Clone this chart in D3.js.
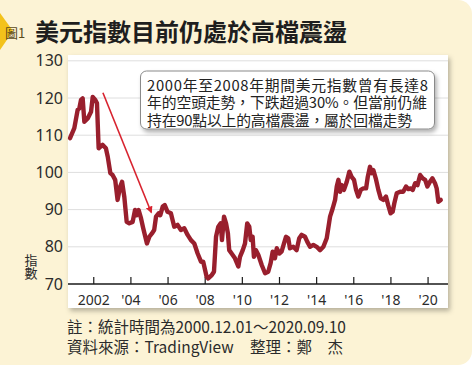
<!DOCTYPE html>
<html>
<head>
<meta charset="utf-8">
<script src="https://cdn.jsdelivr.net/npm/d3@7"></script>
<style>
  html, body { margin: 0; padding: 0; background: #ffffff; }
  svg { display: block; }
  text { font-family: "Noto Sans CJK TC", "Noto Sans", sans-serif; fill: #2b2b2b; }
</style>
</head>
<body>
<div id="chart"></div>
<script>
// US dollar index (fractional year, index value)
const years = [2000.75, 2000.98, 2001.16, 2001.25, 2001.34, 2001.43, 2001.52, 2001.70, 2001.88, 2001.97,
    2002.11, 2002.20, 2002.29, 2002.50, 2002.68, 2002.78, 2002.92, 2003.04, 2003.18, 2003.31,
    2003.45, 2003.55, 2003.67, 2003.80, 2003.94, 2004.12, 2004.25, 2004.35, 2004.44, 2004.57,
    2004.69, 2004.89, 2005.02, 2005.16, 2005.28, 2005.38, 2005.52, 2005.61, 2005.74, 2005.85,
    2006.00, 2006.18, 2006.36, 2006.54, 2006.72, 2006.90, 2007.08, 2007.26, 2007.44, 2007.62,
    2007.80, 2007.92, 2008.10, 2008.19, 2008.38, 2008.50, 2008.61, 2008.73, 2008.86, 2008.93,
    2009.04, 2009.15, 2009.25, 2009.32, 2009.45, 2009.63, 2009.81, 2009.90, 2010.05, 2010.17,
    2010.29, 2010.40, 2010.48, 2010.58, 2010.65, 2010.76, 2010.89, 2011.07, 2011.25, 2011.42,
    2011.55, 2011.66, 2011.78, 2011.88, 2012.02, 2012.14, 2012.27, 2012.38, 2012.50, 2012.59,
    2012.77, 2012.95, 2013.09, 2013.22, 2013.40, 2013.52, 2013.67, 2013.85, 2014.03, 2014.21,
    2014.39, 2014.57, 2014.75, 2014.89, 2015.02, 2015.11, 2015.20, 2015.29, 2015.38, 2015.50,
    2015.65, 2015.79, 2015.91, 2016.04, 2016.15, 2016.27, 2016.40, 2016.54, 2016.69, 2016.78,
    2016.90, 2016.99, 2017.08, 2017.21, 2017.35, 2017.48, 2017.62, 2017.76, 2017.88, 2018.01,
    2018.12, 2018.21, 2018.34, 2018.52, 2018.69, 2018.84, 2018.97, 2019.09, 2019.20, 2019.33,
    2019.46, 2019.60, 2019.74, 2019.87, 2019.99, 2020.13, 2020.26, 2020.40, 2020.49, 2020.58,
    2020.71];

const dxy = [109.2, 111.9, 116.8, 117.2, 119.5, 119.9, 113.6, 114.5, 116.3, 120.3,
    119.5, 118.6, 106.5, 107.4, 106.5, 104.2, 99.8, 99.3, 98.0, 92.6,
    96.2, 97.5, 93.5, 86.7, 86.3, 86.7, 89.9, 88.5, 89.9, 87.7,
    85.0, 80.9, 82.7, 83.6, 84.5, 88.1, 89.0, 88.5, 90.8, 91.2,
    89.4, 89.0, 85.4, 85.9, 84.5, 85.0, 83.2, 81.8, 80.9, 78.2,
    76.0, 76.0, 72.0, 71.5, 72.4, 73.3, 82.7, 85.4, 86.3, 81.8,
    88.1, 86.3, 83.6, 79.1, 78.2, 76.9, 74.7, 77.3, 79.1, 80.9,
    86.3, 85.4, 81.8, 82.7, 77.3, 79.1, 77.8, 75.1, 72.9, 73.3,
    75.6, 78.7, 76.9, 79.6, 78.2, 78.7, 80.9, 82.7, 82.3, 79.6,
    80.0, 79.1, 82.3, 83.2, 82.7, 81.4, 80.0, 80.5, 80.0, 79.1,
    80.0, 82.3, 88.1, 90.3, 92.6, 96.2, 98.0, 94.8, 96.6, 95.3,
    97.5, 100.2, 98.8, 98.0, 95.3, 93.5, 95.3, 95.7, 95.7, 98.8,
    101.5, 99.8, 100.6, 98.4, 95.3, 93.0, 92.6, 93.5, 91.2, 89.0,
    89.4, 91.7, 94.4, 94.8, 94.8, 96.2, 95.5, 95.7, 95.3, 97.1,
    96.6, 99.3, 98.4, 98.0, 96.2, 97.5, 98.4, 97.1, 95.7, 92.1,
    92.6];

const tickYears = [2002, 2004, 2006, 2008, 2010, 2012, 2014, 2016, 2018, 2020];
const tickLabels = ["2002", "'04", "'06", "'08", "'10", "'12", "'14", "'16", "'18", "'20"];
const yTicks = [70, 80, 90, 100, 110, 120, 130];

const title = "美元指數目前仍處於高檔震盪";
const noteLines = ["2000年至2008年期間美元指數曾有長達8",
                   "年的空頭走勢，下跌超過30%。但當前仍維",
                   "持在90點以上的高檔震盪，屬於回檔走勢"];
const footNote = "註：統計時間為2000.12.01～2020.09.10";
const source = "資料來源：TradingView";
const editor = "整理：鄭　杰";

const W = 474, H = 367;
const plot = {left: 68, right: 448, top: 55, axisY: 284, bottom: 308};
// widths the note lines take up in the picture
const noteWidths = [281, 280, 265];

const data = years.map((y, i) => ({t: y, v: dxy[i]}));

const svg = d3.select("#chart").append("svg")
    .attr("width", W)
    .attr("height", H);

const defs = svg.append("defs");
let shadow = defs.append("filter").attr("id", "shadow")
    .attr("x", "-10%").attr("y", "-10%").attr("width", "130%").attr("height", "130%");
shadow.append("feDropShadow")
    .attr("dx", 2).attr("dy", 3).attr("stdDeviation", 2.5)
    .attr("flood-color", "#000").attr("flood-opacity", 0.28);

let boxShadow = defs.append("filter").attr("id", "boxShadow")
    .attr("x", "-10%").attr("y", "-20%").attr("width", "130%").attr("height", "160%");
boxShadow.append("feDropShadow")
    .attr("dx", 2).attr("dy", 3).attr("stdDeviation", 2)
    .attr("flood-color", "#000").attr("flood-opacity", 0.3);

defs.append("marker")
    .attr("id", "arrowHead")
    .attr("viewBox", "0 -5 10 10")
    .attr("refX", 8).attr("refY", 0)
    .attr("markerWidth", 7).attr("markerHeight", 9)
    .attr("markerUnits", "userSpaceOnUse")
    .attr("orient", "auto")
    .append("path")
    .attr("d", "M0,-5L10,0L0,5Z")
    .attr("fill", "#d8232f");

// cream background panel
svg.append("rect")
    .attr("x", -14).attr("y", 0)
    .attr("width", W + 12).attr("height", 365)
    .attr("rx", 14)
    .attr("fill", "#fcf3d5");

// yellow tab on the left of the title
svg.append("path")
    .attr("d", "M0,13L13,31L0,50Z")
    .attr("fill", "#f3c21b");

svg.append("text")
    .attr("x", 5).attr("y", 38)
    .attr("font-size", 13)
    .style("fill", "#5a4a1a")
    .text("圖1");

svg.append("text")
    .attr("x", 35).attr("y", 40.5)
    .attr("font-size", 24)
    .attr("font-weight", 700)
    .style("fill", "#1e1e1e")
    .text(title);

// white plot card
svg.append("rect")
    .attr("x", plot.left).attr("y", plot.top)
    .attr("width", plot.right - plot.left)
    .attr("height", plot.bottom - plot.top)
    .attr("fill", "#ffffff")
    .attr("filter", "url(#shadow)");

// scales
const x = d3.scaleLinear()
    .domain([2000.64, 2021.1])
    .range([plot.left, plot.right]);

const y = d3.scaleLinear()
    .domain([70, 130])
    .range([plot.axisY, 60.8]);

// gridlines
svg.append("g")
    .selectAll("line")
    .data(yTicks.filter(d => d > 70))
    .join("line")
    .attr("x1", plot.left).attr("x2", plot.right)
    .attr("y1", d => y(d)).attr("y2", d => y(d))
    .attr("stroke", "#dedede")
    .attr("stroke-width", 1);

// y tick labels
svg.append("g")
    .selectAll("text")
    .data(yTicks)
    .join("text")
    .attr("x", 63)
    .attr("y", d => y(d) + 5.5)
    .attr("text-anchor", "end")
    .attr("font-size", 16)
    .style("font-family", "'Noto Sans', sans-serif")
    .text(d => d);

// y axis title (vertical)
svg.append("g")
    .selectAll("text")
    .data(["指", "數"])
    .join("text")
    .attr("x", 31)
    .attr("y", (d, i) => 265 + i * 13)
    .attr("text-anchor", "middle")
    .attr("font-size", 13)
    .text(d => d);

// x axis
const xAxis = d3.axisBottom(x)
    .tickValues(tickYears)
    .tickSize(-7)
    .tickFormat((d, i) => tickLabels[i]);

const xg = svg.append("g")
    .attr("transform", "translate(0," + plot.axisY + ")")
    .call(xAxis);
xg.select(".domain")
    .attr("d", "M" + plot.left + ",0H" + plot.right)
    .attr("stroke", "#1a1a1a")
    .attr("stroke-width", 1.3);
xg.selectAll(".tick line").attr("stroke", "#1a1a1a").attr("stroke-width", 1.2);
xg.selectAll(".tick text")
    .attr("y", 11)
    .attr("font-size", 14)
    .style("font-family", "'Liberation Sans Narrow', 'Noto Sans', sans-serif")
    .style("fill", "#2b2b2b");

// the index line
const line = d3.line()
    .x(d => x(d.t))
    .y(d => y(d.v));

svg.append("path")
    .datum(data)
    .attr("d", line)
    .attr("fill", "none")
    .attr("stroke", "#991f2d")
    .attr("stroke-width", 4.4)
    .attr("stroke-linejoin", "round")
    .attr("stroke-linecap", "round");

// red trend arrow
svg.append("line")
    .attr("x1", x(2002.52)).attr("y1", y(121.4))
    .attr("x2", x(2005.12)).attr("y2", y(89.3))
    .attr("stroke", "#d8232f")
    .attr("stroke-width", 1.6)
    .attr("marker-end", "url(#arrowHead)");

// annotation box
const note = svg.append("g");
note.append("rect")
    .attr("x", 140.5).attr("y", 71)
    .attr("width", 294).attr("height", 58)
    .attr("rx", 6)
    .attr("fill", "#ffffff")
    .attr("stroke", "#8a8a8a")
    .attr("stroke-width", 1)
    .attr("filter", "url(#boxShadow)");
note.selectAll("text")
    .data(noteLines)
    .join("text")
    .attr("x", 147)
    .attr("y", (d, i) => 90.5 + i * 17.5)
    .attr("font-size", 14.8)
    .attr("textLength", (d, i) => noteWidths[i])
    .attr("lengthAdjust", "spacing")
    .style("fill", "#222")
    .text(d => d);

// footer
svg.append("text")
    .attr("x", 67).attr("y", 333)
    .attr("font-size", 15.5)
    .text(footNote);
svg.append("text")
    .attr("x", 67).attr("y", 353)
    .attr("font-size", 15.5)
    .text(source);
svg.append("text")
    .attr("x", 250).attr("y", 353)
    .attr("font-size", 15.5)
    .text(editor);
</script>
</body>
</html>
